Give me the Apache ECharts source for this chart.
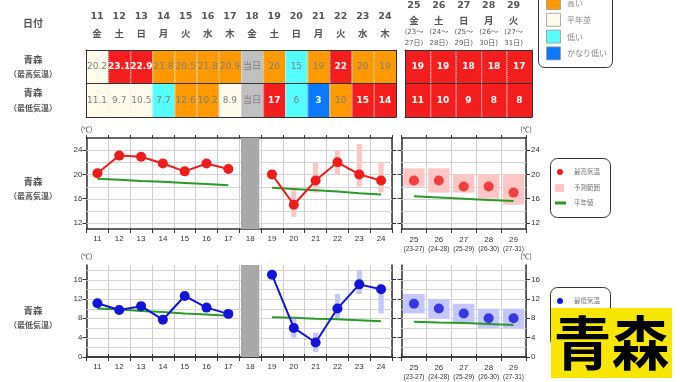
<!DOCTYPE html>
<html><head><meta charset="utf-8">
<script src="https://cdn.jsdelivr.net/npm/echarts@6/dist/echarts.min.js"></script>
<style>html,body{margin:0;padding:0;background:#fff}#c{width:680px;height:382px}</style>
</head><body><div id="c"></div>
<script>
// ---------- data ----------
const days = ['11','12','13','14','15','16','17','18','19','20','21','22','23','24'];
const weekdays = ['金','土','日','月','火','水','木','金','土','日','月','火','水','木'];
const todayLabel = '18';
const wDays = ['25','26','27','28','29'];
const wWeekdays = ['金','土','日','月','火'];
const wSpanStart = ['23','24','25','26','27'];
const wSpanEnd = ['27','28','29','30','31'];
const rowNames = ['青森','青森'];
const rowKinds = ['（最高気温）','（最低気温）'];

const maxCells = ['20.2','23.1','22.9','21.8','20.5','21.8','20.9','当日','20','15','19','22','20','19'];
const maxClass = ['n','vh','vh','h','h','h','h','t','h','l','h','vh','h','h'];
const minCells = ['11.1','9.7','10.5','7.7','12.6','10.2','8.9','当日','17','6','3','10','15','14'];
const minClass = ['n','n','n','l','h','h','n','t','vh','l','vl','h','vh','vh'];
const wMaxCells = ['19','19','18','18','17'];
const wMaxClass = ['vh','vh','vh','vh','vh'];
const wMinCells = ['11','10','9','8','8'];
const wMinClass = ['vh','vh','vh','vh','vh'];

const maxTemp   = [20.2,23.1,22.9,21.8,20.5,21.8,20.9,null,20,15,19,22,20,19];
const maxLow    = [null,null,null,null,null,null,null,null,null,13,17,20,18,17];
const maxHigh   = [null,null,null,null,null,null,null,null,null,18,22,24,25,22];
const maxNormal = [19.3,19.1,18.9,18.8,18.6,18.4,18.2,null,17.8,17.6,17.4,17.2,16.9,16.7];
const minTemp   = [11.1,9.7,10.5,7.7,12.6,10.2,8.9,null,17,6,3,10,15,14];
const minLow    = [null,null,null,null,null,null,null,null,null,4,1,8,13,9];
const minHigh   = [null,null,null,null,null,null,null,null,null,8,5,13,18,15];
const minNormal = [10.0,9.8,9.5,9.3,9.0,8.8,8.5,null,8.2,8.1,7.9,7.8,7.6,7.4];

const wMaxTemp = [19,19,18,18,17];
const wMaxLow  = [18,17,17,16,15];
const wMaxHigh = [21,21,20,20,20];
const wMaxNormal = [16.4,16.2,16.0,15.8,15.6];
const wMinTemp = [11,10,9,8,8];
const wMinLow  = [9,8,7,6,6];
const wMinHigh = [13,12,11,10,10];
const wMinNormal = [7.3,7.1,7.0,6.8,6.6];

const maxRange = [11,26];
const maxTicks = [12,16,20,24];
const maxGridVals = [12,14,16,18,20,22,24];
const minRange = [0,19];
const minTicks = [0,4,8,12,16];
const minGridVals = [2,4,6,8,10,12,14,16,18];

const legendClasses = ['高い','平年並','低い','かなり低い'];
const legendClassKeys = ['h','n','l','vl'];

// ---------- styles ----------
const JP = '"Noto Sans CJK JP", sans-serif';
const NUM = '"Liberation Sans", Arial, sans-serif';
const VER = '"DejaVu Sans", "Noto Sans CJK JP", sans-serif';
const AX = '#333';
const fillOf = {vh:'#f41e1e', h:'#ff9900', n:'#fffbea', l:'#55ffff', vl:'#0a78ff', t:'#c0c0c0'};
const RED = '#ee1c1c', BLUE = '#1414d8', GREEN = '#2b9a2b';
const PINK = '#ffc6c6', LBLUE = '#c4c6ff';

const grid = [], xAxis = [], yAxis = [], series = [];
function addGrid(g){ grid.push(Object.assign({show:false, containLabel:false, outerBoundsMode:'none'}, g)); return grid.length-1; }

// ---------- chart panels ----------
function buildChart(g, cats, xFmt, range, ticks, showLeftLabels, unitLeft) {
  const gi = addGrid(g);
  const xb = xAxis.push({type:'category', gridIndex:gi, data:cats, position:'bottom', boundaryGap:true,
    axisLine:{lineStyle:{color:AX, width:1.5}},
    axisTick:{show:true, interval:0, length:4, lineStyle:{color:AX}},
    axisLabel:{interval:0, fontSize:8, color:'#333', margin:6, fontFamily:NUM, formatter:xFmt,
      rich:{a:{fontSize:8, fontFamily:NUM, color:'#333', lineHeight:10}, b:{fontSize:6.5, fontFamily:NUM, color:'#333', lineHeight:9}}},
    splitLine:{show:true, interval:0, lineStyle:{color:'#cfcfcf', width:1}}}) - 1;
  xAxis.push({type:'category', gridIndex:gi, data:cats, position:'top', boundaryGap:true,
    axisLine:{lineStyle:{color:AX, width:1.5}},
    axisTick:{show:true, interval:0, length:3, lineStyle:{color:AX}},
    axisLabel:{show:false}, splitLine:{show:false}});
  const common = {type:'value', gridIndex:gi, min:range[0], max:range[1],
    axisLine:{show:true, lineStyle:{color:AX, width:1.5}},
    axisTick:{show:true, length:4, customValues:ticks, lineStyle:{color:AX}},
    splitLine:{show:false},
    nameGap:5, nameTextStyle:{fontSize:7, color:'#333', fontFamily:JP}};
  const yl = yAxis.push(Object.assign({}, common, {position:'left',
    axisLabel:{show:showLeftLabels, customValues:ticks, fontSize:8, color:'#333', margin:4, fontFamily:NUM},
    name: unitLeft ? '(℃)' : ''})) - 1;
  yAxis.push(Object.assign({}, common, {position:'right',
    axisLabel:{show:!showLeftLabels, customValues:ticks, fontSize:8, color:'#333', margin:5, fontFamily:NUM},
    name: unitLeft ? '' : '(℃)'}));
  return {x:xb, y:yl};
}

function gridLines(ax, vals) {
  series.push({type:'custom', xAxisIndex:ax.x, yAxisIndex:ax.y, z:1, silent:true,
    data: vals.map(v => [0, v]), encode:{x:0, y:1},
    renderItem:(p, api) => {
      const y = Math.round(api.coord([0, api.value(1)])[1]) + 0.5;
      const cs = p.coordSys;
      return {type:'line', shape:{x1:cs.x, y1:y, x2:cs.x+cs.width, y2:y}, style:{stroke:'#d4d4d4', lineWidth:1}};
    }});
}
function rangeSeries(ax, lows, highs, frac, color) {
  const data = [];
  lows.forEach((lo, i) => { if (lo != null && highs[i] != null) data.push([i, lo, highs[i]]); });
  series.push({type:'custom', xAxisIndex:ax.x, yAxisIndex:ax.y, z:3, silent:true, data, encode:{x:0, y:[1,2]},
    renderItem:(p, api) => {
      const x = api.value(0);
      const top = api.coord([x, api.value(2)]), bot = api.coord([x, api.value(1)]);
      const w = api.size([1, 0])[0] * frac;
      return {type:'rect', shape:{x:top[0]-w/2, y:top[1], width:w, height:bot[1]-top[1]}, style:{fill:color}};
    }});
}
function todayBand(ax, range) {
  series.push({type:'bar', xAxisIndex:ax.x, yAxisIndex:ax.y, z:2, silent:true, barWidth:'84%', clip:true,
    data: days.map(d => d === todayLabel ? range[1] : null), itemStyle:{color:'#a9a9a9'}});
}
function normalLine(ax, data) {
  series.push({type:'line', xAxisIndex:ax.x, yAxisIndex:ax.y, z:4, data, symbol:'none', connectNulls:false,
    lineStyle:{color:GREEN, width:2}});
}
function tempLine(ax, data, color) {
  series.push({type:'line', xAxisIndex:ax.x, yAxisIndex:ax.y, z:5, data, symbol:'circle', symbolSize:10,
    connectNulls:false, lineStyle:{color, width:2}, itemStyle:{color}});
}
function tempDots(ax, data, color) {
  series.push({type:'scatter', xAxisIndex:ax.x, yAxisIndex:ax.y, z:5, data, symbol:'circle', symbolSize:10,
    itemStyle:{color}});
}

const wFmt = (v, i) => `{a|${v}}\n{b|(${wSpanStart[i]}-${wSpanEnd[i]})}`;

// top-left: daily max
const A = buildChart({left:86.5, top:138, width:305.5, height:91}, days, null, maxRange, maxTicks, true, true);
gridLines(A, maxGridVals); todayBand(A, maxRange); rangeSeries(A, maxLow, maxHigh, 0.24, PINK);
normalLine(A, maxNormal); tempLine(A, maxTemp, RED);
// top-right: weekly max
const B = buildChart({left:401.5, top:138, width:124.5, height:91}, wDays, wFmt, maxRange, maxTicks, false, false);
gridLines(B, maxGridVals); rangeSeries(B, wMaxLow, wMaxHigh, 0.86, PINK);
normalLine(B, wMaxNormal); tempDots(B, wMaxTemp, RED);
// bottom-left: daily min
const C = buildChart({left:86.5, top:265, width:305.5, height:92}, days, null, minRange, minTicks, true, true);
gridLines(C, minGridVals); todayBand(C, minRange); rangeSeries(C, minLow, minHigh, 0.24, LBLUE);
normalLine(C, minNormal); tempLine(C, minTemp, BLUE);
// bottom-right: weekly min
const D = buildChart({left:401.5, top:265, width:124.5, height:92}, wDays, wFmt, minRange, minTicks, false, false);
gridLines(D, minGridVals); rangeSeries(D, wMinLow, wMinHigh, 0.86, LBLUE);
normalLine(D, wMinNormal); tempDots(D, wMinTemp, BLUE);

// ---------- tables ----------
function cellRender(texts, classes) {
  return (p, api) => {
    const i = api.value(0), r = api.value(1);
    const c = api.coord([i, r]);
    const s = api.size([1, 1]);
    const cls = classes[p.dataIndex];
    const strong = cls === 'vh' || cls === 'vl';
    const x0 = c[0] - s[0]/2, y0 = c[1] - s[1]/2;
    const children = [
      {type:'rect', shape:{x:x0, y:y0, width:s[0], height:s[1]}, style:{fill:fillOf[cls]}},
      {type:'text', style:{x:c[0], y:c[1], text:texts[p.dataIndex], align:'center', verticalAlign:'middle',
        fill: strong ? '#fff' : '#7e7e7e', font:(strong ? 'bold ' : '') + '9px ' + VER}}
    ];
    if (p.dataIndex > 0) children.push({type:'line', shape:{x1:x0+0.5, y1:y0, x2:x0+0.5, y2:y0+s[1]},
      style:{stroke:'#e6e6e6', lineWidth:1, lineDash:[1,1]}});
    return {type:'group', children};
  };
}
function tableAxes(gi, cats, topLabels, leftLabels) {
  const base = {type:'category', gridIndex:gi, data:cats, z:10, boundaryGap:true,
    axisLine:{lineStyle:{color:AX, width:1}}, axisTick:{show:false}, splitLine:{show:false}};
  const xb = xAxis.push(Object.assign({}, base, {position:'bottom', axisLabel:{show:false}})) - 1;
  xAxis.push(Object.assign({}, base, {position:'top', axisLabel:topLabels || {show:false}}));
  const ybase = {type:'category', gridIndex:gi, data:['max','min'], inverse:true, z:10, boundaryGap:true,
    axisLine:{lineStyle:{color:AX, width:1}}, axisTick:{show:false},
    splitLine:{show:true, interval:0, lineStyle:{color:AX, width:1}}};
  const yl = yAxis.push(Object.assign({}, ybase, {position:'left', axisLabel:leftLabels || {show:false}})) - 1;
  yAxis.push(Object.assign({}, ybase, {position:'right', axisLabel:{show:false}, splitLine:{show:false}}));
  return {x:xb, y:yl};
}
const headRich = {d:{fontSize:9.5, fontWeight:'bold', color:'#555', fontFamily:VER, lineHeight:16},
                  w:{fontSize:9.5, fontWeight:'bold', color:'#555', fontFamily:JP, lineHeight:16},
                  s:{fontSize:7, color:'#555', fontFamily:VER, lineHeight:11}};
const gT1 = addGrid({left:86, top:50, width:310, height:67});
const T1 = tableAxes(gT1, days,
  {interval:0, margin:9, formatter:(v, i) => `{d|${v}}\n{w|${weekdays[i]}}`, rich:headRich},
  {interval:0, margin:53, align:'center', formatter:(v, i) => `{a|${rowNames[i]}}\n{b|${rowKinds[i]}}`,
   rich:{a:{fontSize:9.5, fontWeight:'bold', color:'#555', fontFamily:JP, lineHeight:15, align:'center'},
         b:{fontSize:8, fontWeight:'bold', color:'#555', fontFamily:JP, lineHeight:15, align:'center'}}});
series.push({type:'custom', xAxisIndex:T1.x, yAxisIndex:T1.y, z:2, silent:true, data:days.map((d, i) => [i, 0]), renderItem:cellRender(maxCells, maxClass)});
series.push({type:'custom', xAxisIndex:T1.x, yAxisIndex:T1.y, z:2, silent:true, data:days.map((d, i) => [i, 1]), renderItem:cellRender(minCells, minClass)});

const gT2 = addGrid({left:405, top:50, width:127, height:67});
const T2 = tableAxes(gT2, wDays, null, null);
series.push({type:'custom', xAxisIndex:T2.x, yAxisIndex:T2.y, z:2, silent:true, data:wDays.map((d, i) => [i, 0]), renderItem:cellRender(wMaxCells, wMaxClass)});
series.push({type:'custom', xAxisIndex:T2.x, yAxisIndex:T2.y, z:2, silent:true, data:wDays.map((d, i) => [i, 1]), renderItem:cellRender(wMinCells, wMinClass)});

// weekly header (aligned with chart columns)
const gH = addGrid({left:401.5, top:50, width:124.5, height:67});
xAxis.push({type:'category', gridIndex:gH, data:wDays, position:'top', axisLine:{show:false}, axisTick:{show:false},
  splitLine:{show:false}, axisLabel:{interval:0, margin:1,
    formatter:(v, i) => `{d|${v}}\n{w|${wWeekdays[i]}}\n{s|(${wSpanStart[i]}〜}\n{s|${wSpanEnd[i]}日)}`,
    rich:Object.assign({}, headRich, {d:Object.assign({}, headRich.d, {lineHeight:14}), w:Object.assign({}, headRich.w, {lineHeight:14})})}});
yAxis.push({type:'value', gridIndex:gH, show:false});
series.push({type:'line', xAxisIndex:xAxis.length-1, yAxisIndex:yAxis.length-1, data:[], silent:true});

// ---------- graphics: labels, legends, title box ----------
const txt = (x, y, text, font, fill, align) => ({type:'text', x, y, style:{text, font, fill:fill || '#555', align:align || 'center', verticalAlign:'middle'}});
const graphic = [
  txt(33, 23, '日付', 'bold 10px ' + JP),
  txt(33, 181, rowNames[0], 'bold 9.5px ' + JP), txt(33, 196, rowKinds[0], 'bold 8px ' + JP),
  txt(33, 310, rowNames[1], 'bold 9.5px ' + JP), txt(33, 325, rowKinds[1], 'bold 8px ' + JP),
  // class legend (top right)
  {type:'rect', shape:{x:538.5, y:-12, width:74, height:79.5, r:6}, style:{fill:'#fff', stroke:'#333', lineWidth:1}},
];
legendClasses.forEach((name, k) => {
  const y = -3.5 + k * 16.8;
  graphic.push({type:'rect', shape:{x:546.5, y, width:14, height:13}, style:{fill:fillOf[legendClassKeys[k]], stroke:'#999', lineWidth:0.8}});
  graphic.push(txt(567, y + 6.5, name, '8px ' + JP, '#888', 'left'));
});
// series legend (max)
graphic.push({type:'rect', shape:{x:550.5, y:158.5, width:60, height:59, r:7}, style:{fill:'#fff', stroke:'#333', lineWidth:1}});
graphic.push({type:'circle', shape:{cx:560, cy:172, r:3}, style:{fill:RED}});
graphic.push(txt(574, 172, '最高気温', '6.5px ' + JP, '#777', 'left'));
graphic.push({type:'rect', shape:{x:555, y:184, width:9, height:8}, style:{fill:PINK}});
graphic.push(txt(574, 188, '予測範囲', '6.5px ' + JP, '#777', 'left'));
graphic.push({type:'line', shape:{x1:555, y1:203, x2:566, y2:203}, style:{stroke:GREEN, lineWidth:3}});
graphic.push(txt(574, 203, '平年値', '6.5px ' + JP, '#777', 'left'));
// series legend (min), partly covered
graphic.push({type:'rect', shape:{x:550.5, y:287.5, width:60, height:59, r:7}, style:{fill:'#fff', stroke:'#333', lineWidth:1}});
graphic.push({type:'circle', shape:{cx:560, cy:301, r:3}, style:{fill:BLUE}});
graphic.push(txt(574, 301, '最低気温', '6.5px ' + JP, '#777', 'left'));
// yellow title box
graphic.push({type:'rect', shape:{x:551, y:308, width:121, height:70}, style:{fill:'#f6e600'}});
graphic.push(txt(611.5, 343, '青森', 'bold 58px ' + JP, '#000', 'center'));

const chart = echarts.init(document.getElementById('c'), null, {renderer:'canvas'});
chart.setOption({animation:false, backgroundColor:'#fff', grid, xAxis, yAxis, series, graphic});
</script></body></html>
